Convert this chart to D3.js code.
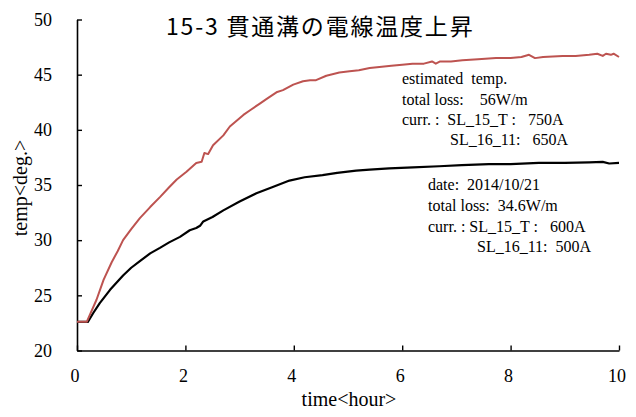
<!DOCTYPE html>
<html>
<head>
<meta charset="utf-8">
<script src="https://cdn.jsdelivr.net/npm/d3@7.9.0/dist/d3.min.js"></script>
<style>
  body { margin: 0; background: #fff; }
  svg { display: block; }
  .tick text { font-family: "Liberation Serif", serif; font-size: 18px; fill: #000; }
  .note { font-family: "Liberation Serif", serif; font-size: 16px; fill: #000; }
</style>
</head>
<body>
<svg id="chart" width="636" height="417"></svg>
<script>
// Measured curve (2014/10/21) and estimated curve, time in hours
const blackTime = [0, 0.2, 0.3, 0.42, 0.61, 0.85, 1.0, 1.16, 1.35, 1.53, 1.7, 1.9, 2.08, 2.2, 2.27, 2.33, 2.5, 2.7, 3.0, 3.31, 3.6, 3.92, 4.2, 4.53, 4.8, 5.15, 5.4, 5.76, 6.2, 6.68, 7.1, 7.6, 8.0, 8.52, 9.0, 9.45, 9.7, 9.82, 10];
const blackTemp = [22.6, 22.6, 23.4, 24.3, 25.5, 26.8, 27.5, 28.1, 28.8, 29.3, 29.8, 30.3, 30.9, 31.1, 31.3, 31.7, 32.1, 32.7, 33.5, 34.25, 34.8, 35.4, 35.7, 35.9, 36.1, 36.3, 36.4, 36.5, 36.6, 36.7, 36.8, 36.9, 36.9, 37.0, 37.0, 37.05, 37.1, 36.95, 37.0];

const redTime = [0, 0.18, 0.36, 0.49, 0.64, 0.75, 0.85, 1.0, 1.16, 1.35, 1.53, 1.7, 1.84, 2.02, 2.2, 2.3, 2.35, 2.42, 2.51, 2.7, 2.82, 3.07, 3.2, 3.38, 3.5, 3.68, 3.8, 3.99, 4.17, 4.3, 4.41, 4.6, 4.84, 5.03, 5.2, 5.4, 5.58, 5.8, 6.0, 6.19, 6.4, 6.55, 6.62, 6.7, 6.9, 7.11, 7.4, 7.73, 8.0, 8.2, 8.34, 8.45, 8.6, 8.96, 9.2, 9.45, 9.6, 9.7, 9.76, 9.85, 9.9, 10];
const redTemp = [22.6, 22.6, 24.6, 26.4, 28.0, 29.0, 30.0, 31.0, 32.0, 33.0, 33.9, 34.8, 35.5, 36.2, 37.0, 37.1, 37.9, 37.8, 38.6, 39.5, 40.3, 41.35, 41.8, 42.4, 42.8, 43.4, 43.6, 44.1, 44.4, 44.5, 44.5, 44.9, 45.2, 45.3, 45.4, 45.6, 45.7, 45.8, 45.9, 46.0, 46.0, 46.2, 46.0, 46.2, 46.2, 46.3, 46.4, 46.5, 46.5, 46.6, 46.8, 46.5, 46.6, 46.7, 46.7, 46.8, 46.9, 46.7, 46.9, 46.8, 46.9, 46.6];

const xTicks = [0, 2, 4, 6, 8, 10];
const yTicks = [20, 25, 30, 35, 40, 45, 50];

const titleText = "15-3 貫通溝の電線温度上昇";
const redNote = ["estimated  temp.", "total loss:    56W/m", "curr. :  SL_15_T :   750A", "SL_16_11:   650A"];
const blackNote = ["date:  2014/10/21", "total loss:  34.6W/m", "curr. : SL_15_T :   600A", "SL_16_11:  500A"];

const svg = d3.select("#chart");
svg.append("rect").attr("width", 636).attr("height", 417).attr("fill", "#fff");

const x = d3.scaleLinear().domain([0, 10]).range([77, 619]);
const y = d3.scaleLinear().domain([20, 50]).range([350.5, 19.5]);

// axes, ticks point inward
svg.append("g")
    .attr("transform", "translate(0,350.5)")
    .call(d3.axisBottom(x).tickValues(xTicks).tickSize(-5).tickSizeOuter(0).tickPadding(19))
    .call(g => g.select(".domain").attr("stroke-width", 1.6))
    .call(g => g.selectAll(".tick line").attr("stroke-width", 1.4))
    .call(g => g.selectAll(".tick text").attr("dx", -2.5));

svg.append("g")
    .attr("transform", "translate(77,0)")
    .call(d3.axisLeft(y).tickValues(yTicks).tickSize(-5).tickSizeOuter(0).tickPadding(25))
    .call(g => g.select(".domain").attr("stroke-width", 1.6))
    .call(g => g.selectAll(".tick line").attr("stroke-width", 1.4));

const line = d3.line().x(d => x(d[0])).y(d => y(d[1]));

svg.append("path")
    .datum(blackTime.map((t, i) => [t, blackTemp[i]]))
    .attr("d", line)
    .attr("fill", "none")
    .attr("stroke", "#000")
    .attr("stroke-width", 2.2)
    .attr("stroke-linejoin", "round");

svg.append("path")
    .datum(redTime.map((t, i) => [t, redTemp[i]]))
    .attr("d", line)
    .attr("fill", "none")
    .attr("stroke", "#bd5350")
    .attr("stroke-width", 2)
    .attr("stroke-linejoin", "round");

// title
svg.append("text")
    .attr("x", 166).attr("y", 35)
    .attr("font-family", "'Noto Sans CJK JP', sans-serif")
    .attr("font-size", 23)
    .attr("letter-spacing", 1.8)
    .text(titleText);

// axis titles
svg.append("text")
    .attr("x", 349).attr("y", 406)
    .attr("text-anchor", "middle")
    .attr("font-family", "'Liberation Serif', serif")
    .attr("font-size", 20)
    .text("time<hour>");

svg.append("text")
    .attr("transform", "translate(27,188) rotate(-90)")
    .attr("text-anchor", "middle")
    .attr("font-family", "'Liberation Serif', serif")
    .attr("font-size", 20)
    .text("temp<deg.>");

// annotations
const redX = [402, 402, 402, 450];
const redY = [84, 105, 125, 145];
svg.selectAll(".rn").data(redNote).enter().append("text")
    .attr("class", "note")
    .attr("x", (d, i) => redX[i]).attr("y", (d, i) => redY[i])
    .style("white-space", "pre")
    .text(d => d);

const blackX = [428, 428, 428, 477];
const blackY = [190, 211, 232, 252];
svg.selectAll(".bn").data(blackNote).enter().append("text")
    .attr("class", "note")
    .attr("x", (d, i) => blackX[i]).attr("y", (d, i) => blackY[i])
    .style("white-space", "pre")
    .text(d => d);
</script>
</body>
</html>
